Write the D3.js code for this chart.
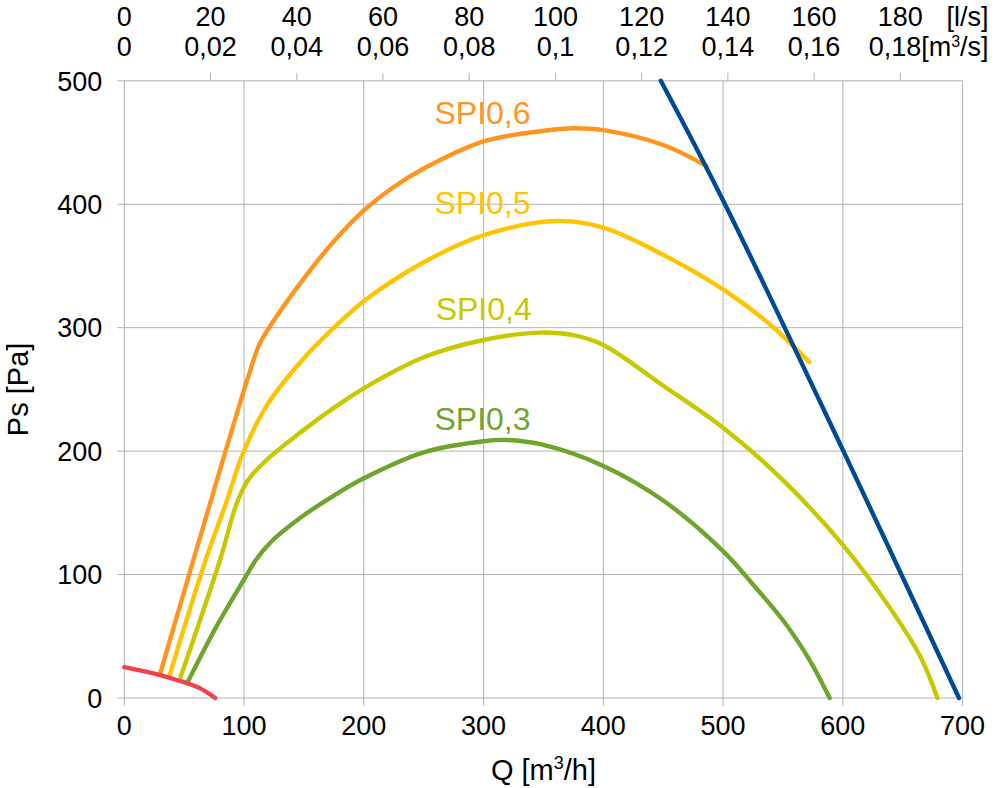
<!DOCTYPE html>
<html>
<head>
<meta charset="utf-8">
<script src="https://cdn.jsdelivr.net/npm/d3@7"></script>
<style>
  body { margin: 0; background: #fff; }
  text { font-family: "Liberation Sans", Arial, sans-serif; fill: #000; }
</style>
</head>
<body>
<div id="chart"></div>
<script>
// axis ticks
var qTicks = [0, 100, 200, 300, 400, 500, 600, 700];
var psTicks = [0, 100, 200, 300, 400, 500];
var lsTicks = [0, 20, 40, 60, 80, 100, 120, 140, 160, 180];
var lsLabels = ["0", "20", "40", "60", "80", "100", "120", "140", "160", "180"];
var m3sLabels = ["0", "0,02", "0,04", "0,06", "0,08", "0,1", "0,12", "0,14", "0,16", "0,18"];

// curves: [Q m3/h, Ps Pa]
var spi06 = [[30,20],[105,265],[113,287],[125,306],[150,340],[175,370],[200,395],[225,414],[250,429],[300,451],[350,459.5],[375,461.5],[400,460],[450,448],[486,431]];
var spi05 = [[38,19],[68,112],[85,158],[99,198],[119,237],[147,272],[175,300],[202,323],[250,353],[300,375],[362,386.5],[400,381],[450,359],[500,331],[540,302],[572,272]];
var spi04 = [[47,17],[80,112],[94,158],[103,176],[119,193],[147,215],[175,235],[202,252],[250,276],[300,290],[347,296],[375,294],[400,286],[450,253],[500,219],[550,176.5],[600,124],[640,72],[665,33],[679,0]];
var spi03 = [[53,13],[77,58],[100,96],[110,112],[122,126],[147,146],[175,164],[200,178],[250,199],[300,208],[320,209],[350,205],[400,188],[450,160],[500,119],[525,92],[550,63],[565,42],[575,26],[589,0]];
var minLine = [[0,25],[30,18.6],[49,13],[63,8],[76,0]];
var maxLine = [[448,500],[500,403],[600,201],[697,0]];

var curveNames = ["SPI0,6", "SPI0,5", "SPI0,4", "SPI0,3"];
var labelQ = [259, 259, 260, 259];
var labelPs = [465, 392, 306, 217];

var colors = {
  "SPI0,6": "#ff951f",
  "SPI0,5": "#ffc400",
  "SPI0,4": "#c8c800",
  "SPI0,3": "#6ea52c",
  min: "#f2404e",
  max: "#004a93"
};

var dim = { width: 995, height: 788, left: 124.3, right: 962.6, top: 80.8, bottom: 698 };

var svg = d3.select("#chart").append("svg")
    .attr("width", dim.width)
    .attr("height", dim.height);

var x = d3.scaleLinear().domain([0, 700]).range([dim.left, dim.right]);
var y = d3.scaleLinear().domain([0, 500]).range([dim.bottom, dim.top]);

var grid = "#b3b3b3";

// gridlines
svg.append("g").selectAll("line").data(qTicks).join("line")
    .attr("x1", d => x(d)).attr("x2", d => x(d))
    .attr("y1", y(500)).attr("y2", y(0) + 8)
    .attr("stroke", grid).attr("stroke-width", 1);

svg.append("g").selectAll("line").data(psTicks).join("line")
    .attr("x1", x(0) - 7).attr("x2", x(700))
    .attr("y1", d => y(d)).attr("y2", d => y(d))
    .attr("stroke", grid).attr("stroke-width", 1);

// top l/s ticks
svg.append("g").selectAll("line").data(lsTicks.slice(1)).join("line")
    .attr("x1", d => x(d * 3.6)).attr("x2", d => x(d * 3.6))
    .attr("y1", y(500) - 8).attr("y2", y(500))
    .attr("stroke", grid).attr("stroke-width", 1);

// tick labels
svg.append("g").selectAll("text").data(qTicks).join("text")
    .attr("x", d => x(d)).attr("y", y(0) + 37)
    .attr("text-anchor", "middle")
    .style("font-size", "27px")
    .text(d => d);

svg.append("g").selectAll("text").data(psTicks).join("text")
    .attr("x", x(0) - 22).attr("y", d => y(d))
    .attr("dy", "0.36em")
    .attr("text-anchor", "end")
    .style("font-size", "27px")
    .text(d => d);

svg.append("g").selectAll("text").data(lsTicks).join("text")
    .attr("x", d => x(d * 3.6)).attr("y", 26)
    .attr("text-anchor", "middle")
    .style("font-size", "27px")
    .text((d, i) => lsLabels[i]);

svg.append("g").selectAll("text").data(lsTicks.slice(0, -1)).join("text")
    .attr("x", d => x(d * 3.6)).attr("y", 56)
    .attr("text-anchor", "middle")
    .style("font-size", "27px")
    .text((d, i) => m3sLabels[i]);

svg.append("text")
    .attr("x", x(700) + 26).attr("y", 26)
    .attr("text-anchor", "end")
    .style("font-size", "27px")
    .text("[l/s]");

// last m3/s label runs into its unit
var unit = svg.append("text")
    .attr("x", x(700) + 26).attr("y", 56)
    .attr("text-anchor", "end")
    .style("font-size", "27px");
unit.append("tspan").text(m3sLabels[m3sLabels.length - 1] + "[m");
unit.append("tspan").attr("dy", -9).style("font-size", "16px").text("3");
unit.append("tspan").attr("dy", 9).text("/s]");

// axis titles
var xt = svg.append("text")
    .attr("x", (dim.left + dim.right) / 2).attr("y", 780)
    .attr("text-anchor", "middle")
    .style("font-size", "29px");
xt.append("tspan").text("Q [m");
xt.append("tspan").attr("dy", -11).style("font-size", "18px").text("3");
xt.append("tspan").attr("dy", 11).text("/h]");

svg.append("text")
    .attr("transform", "translate(28," + ((dim.top + dim.bottom) / 2) + ") rotate(-90)")
    .attr("text-anchor", "middle")
    .style("font-size", "29px")
    .text("Ps [Pa]");

// curves
var line = d3.line()
    .x(d => x(d[0]))
    .y(d => y(d[1]))
    .curve(d3.curveCatmullRom.alpha(0.5));

var series = [
  { key: "SPI0,6", data: spi06 },
  { key: "SPI0,5", data: spi05 },
  { key: "SPI0,4", data: spi04 },
  { key: "SPI0,3", data: spi03 },
  { key: "min", data: minLine },
  { key: "max", data: maxLine }
];

svg.append("g").selectAll("path").data(series).join("path")
    .attr("d", d => line(d.data))
    .attr("fill", "none")
    .attr("stroke", d => colors[d.key])
    .attr("stroke-width", 4.4)
    .attr("stroke-linecap", "round");

// curve labels
svg.append("g").selectAll("text").data(curveNames).join("text")
    .attr("x", (d, i) => x(labelQ[i]))
    .attr("y", (d, i) => y(labelPs[i]))
    .style("font-size", "32px")
    .style("fill", d => colors[d])
    .text(d => d);
</script>
</body>
</html>
